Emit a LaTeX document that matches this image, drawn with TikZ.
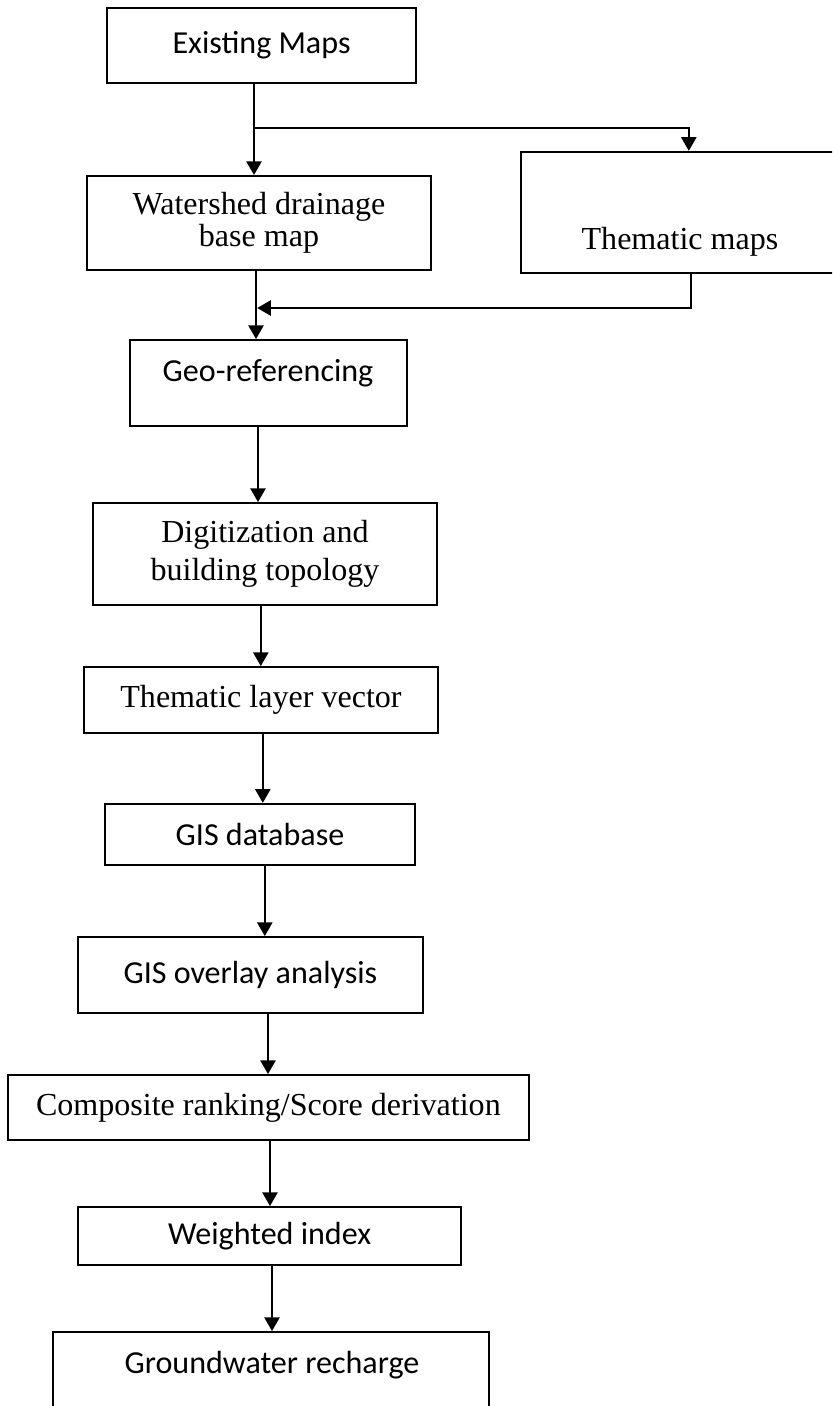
\documentclass[tikz,border=0pt]{standalone}
\usepackage{fontspec}
\setmainfont{Liberation Serif}
\newfontfamily\calibsans{Carlito}
\usetikzlibrary{arrows.meta}
\tikzset{
  stage/.style={draw, line width=1.4pt, inner sep=0pt, align=center},
  stageSans/.style={stage, font=\calibsans\fontsize{22.8}{27}\selectfont},
  stageSerif/.style={stage, font=\fontsize{22.8}{25}\selectfont},
  lblSans/.style={font=\calibsans\fontsize{22.8}{27}\selectfont, inner sep=0pt},
  lblSerif/.style={font=\fontsize{22.8}{27}\selectfont, inner sep=0pt},
  flow/.style={-{Triangle[length=3.4mm, width=3.8mm]}, line width=1.2pt},
}

\begin{document}
\begin{tikzpicture}
\useasboundingbox (0,0) rectangle (20.8,-35.15);
\clip (0,0) rectangle (20.8,-35.15);
\fill[white] (0,0) rectangle (20.8,-35.15);

% ========== INPUT MAPS ==========
\node[stageSans, minimum width=7.73cm, minimum height=1.88cm] (maps) at (6.54,-1.14) {Existing Maps};
\node[stageSerif, minimum width=8.6cm, minimum height=2.35cm] (wshed) at (6.475,-5.575)
  {Watershed drainage\\[-2pt]base map};
\node[stage, minimum width=7.98cm, minimum height=3.03cm] (thm) at (17.01,-5.31) {};
\node[lblSerif] (thmtxt) at (17.0,-6.05) {Thematic maps};

% ========== PROCESSING CHAIN ==========
\node[stage, minimum width=6.93cm, minimum height=2.15cm] (geo) at (6.71,-9.575) {};
\node[lblSans] (geotxt) at (6.7,-9.33) {Geo-referencing};
\node[stageSerif, minimum width=8.6cm, minimum height=2.55cm] (digit) at (6.625,-13.85)
  {Digitization and\\[2pt]building topology};
\node[stageSerif, minimum width=8.85cm, minimum height=1.65cm] (layer) at (6.525,-17.5) {Thematic layer vector};
\node[stageSans, minimum width=7.75cm, minimum height=1.53cm] (gisdb) at (6.5,-20.86) {GIS database};
\node[stageSans, minimum width=8.63cm, minimum height=1.9cm] (overlay) at (6.26,-24.375) {GIS overlay analysis};
\node[stageSerif, minimum width=13.03cm, minimum height=1.63cm] (comp) at (6.71,-27.69)
  {Composite ranking/Score derivation};
\node[stageSans, minimum width=9.58cm, minimum height=1.45cm] (wtd) at (6.74,-30.9) {Weighted index};
\node[stage, minimum width=10.9cm, minimum height=2.2cm] (gw) at (6.775,-34.4) {};
\node[lblSans] (gwtxt) at (6.8,-34.125) {Groundwater recharge};

% main spine, drifting slightly to the right
\foreach \a/\b/\x in {maps/wshed/6.35, wshed/geo/6.40, geo/digit/6.45, digit/layer/6.52,
                      layer/gisdb/6.57, gisdb/overlay/6.62, overlay/comp/6.70,
                      comp/wtd/6.75, wtd/gw/6.80}
  \draw[flow] (\a.south -| \x,0) -- (\b.north -| \x,0);

% side branch through the thematic maps
\coordinate (split) at (6.35,-3.2);
\draw[flow] (split) -| (thm.north -| 17.22,0);
\coordinate (merge) at (6.43,-7.7);
\draw[flow] (thm.south -| 17.28,0) |- (merge);

\end{tikzpicture}
\end{document}
